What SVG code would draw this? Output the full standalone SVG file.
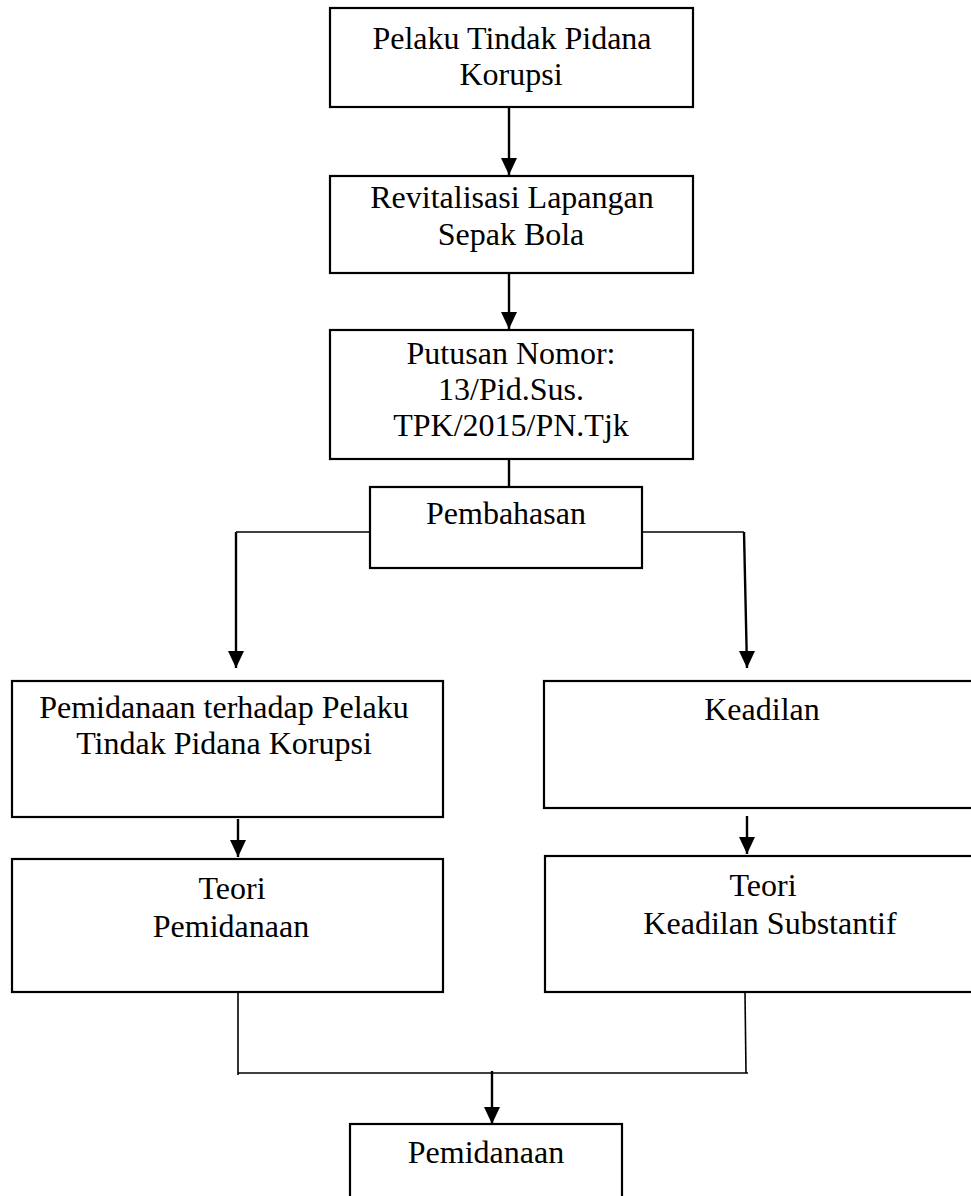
<svg xmlns="http://www.w3.org/2000/svg" width="971" height="1196" viewBox="0 0 971 1196">
<style>
.box{fill:#fff;stroke:#000;stroke-width:2.2}
.t{font-family:"Liberation Serif","Times New Roman",serif;font-size:32px;fill:#000;text-anchor:middle}
.c{fill:none;stroke:#000;stroke-width:2.4}
.c2{fill:none;stroke:#000;stroke-width:1.6}
</style>
<defs>
<marker id="ad" markerUnits="userSpaceOnUse" markerWidth="16" markerHeight="18" viewBox="0 0 16 18" refX="8" refY="17" orient="0">
<path d="M0,0 L16,0 L8,17 Z" fill="#000"/>
</marker>
</defs>
<rect width="971" height="1196" fill="#fff"/>
<g id="connectors">
<path class="c" d="M509,107 V175" marker-end="url(#ad)"/>
<path class="c" d="M509,273 V329" marker-end="url(#ad)"/>
<path class="c" d="M509,459 V487"/>
<path class="c2" d="M370,532 H236"/>
<path class="c" d="M236,532 V668" marker-end="url(#ad)"/>
<path class="c2" d="M642,532 H744"/>
<path class="c" d="M744,532 L747,668" marker-end="url(#ad)"/>
<path class="c" d="M238,819 V857" marker-end="url(#ad)"/>
<path class="c" d="M747,816 V854" marker-end="url(#ad)"/>
<path class="c2" d="M238,992 V1075"/>
<path class="c2" d="M238,1073 H748"/>
<path class="c2" d="M745,992 L746,1073"/>
<path class="c" d="M492,1071 V1124" marker-end="url(#ad)"/>
</g>
<g id="n1"><rect class="box" x="330" y="8" width="363" height="99"/>
<text class="t" x="512" y="49">Pelaku Tindak Pidana</text><text class="t" x="511" y="85">Korupsi</text></g>
<g id="n2"><rect class="box" x="330" y="176" width="363" height="97"/>
<text class="t" x="512" y="208">Revitalisasi Lapangan</text><text class="t" x="511" y="245">Sepak Bola</text></g>
<g id="n3"><rect class="box" x="330" y="330" width="363" height="129"/>
<text class="t" x="511" y="364">Putusan Nomor:</text><text class="t" x="511" y="400">13/Pid.Sus.</text><text class="t" x="511" y="436">TPK/2015/PN.Tjk</text></g>
<g id="n4"><rect class="box" x="370" y="487" width="272" height="81"/>
<text class="t" x="506" y="524">Pembahasan</text></g>
<g id="n5"><rect class="box" x="12" y="681" width="431" height="136"/>
<text class="t" x="224" y="718">Pemidanaan terhadap Pelaku</text><text class="t" x="224" y="754">Tindak Pidana Korupsi</text></g>
<g id="n6"><rect class="box" x="544" y="681" width="440" height="127"/>
<text class="t" x="762" y="720">Keadilan</text></g>
<g id="n7"><rect class="box" x="12" y="859" width="431" height="133"/>
<text class="t" x="232" y="899">Teori</text><text class="t" x="231" y="937">Pemidanaan</text></g>
<g id="n8"><rect class="box" x="545" y="856" width="440" height="136"/>
<text class="t" x="763" y="896">Teori</text><text class="t" x="770" y="934">Keadilan Substantif</text></g>
<g id="n9"><rect class="box" x="350" y="1124" width="272" height="90"/>
<text class="t" x="486" y="1163">Pemidanaan</text></g>
</svg>
